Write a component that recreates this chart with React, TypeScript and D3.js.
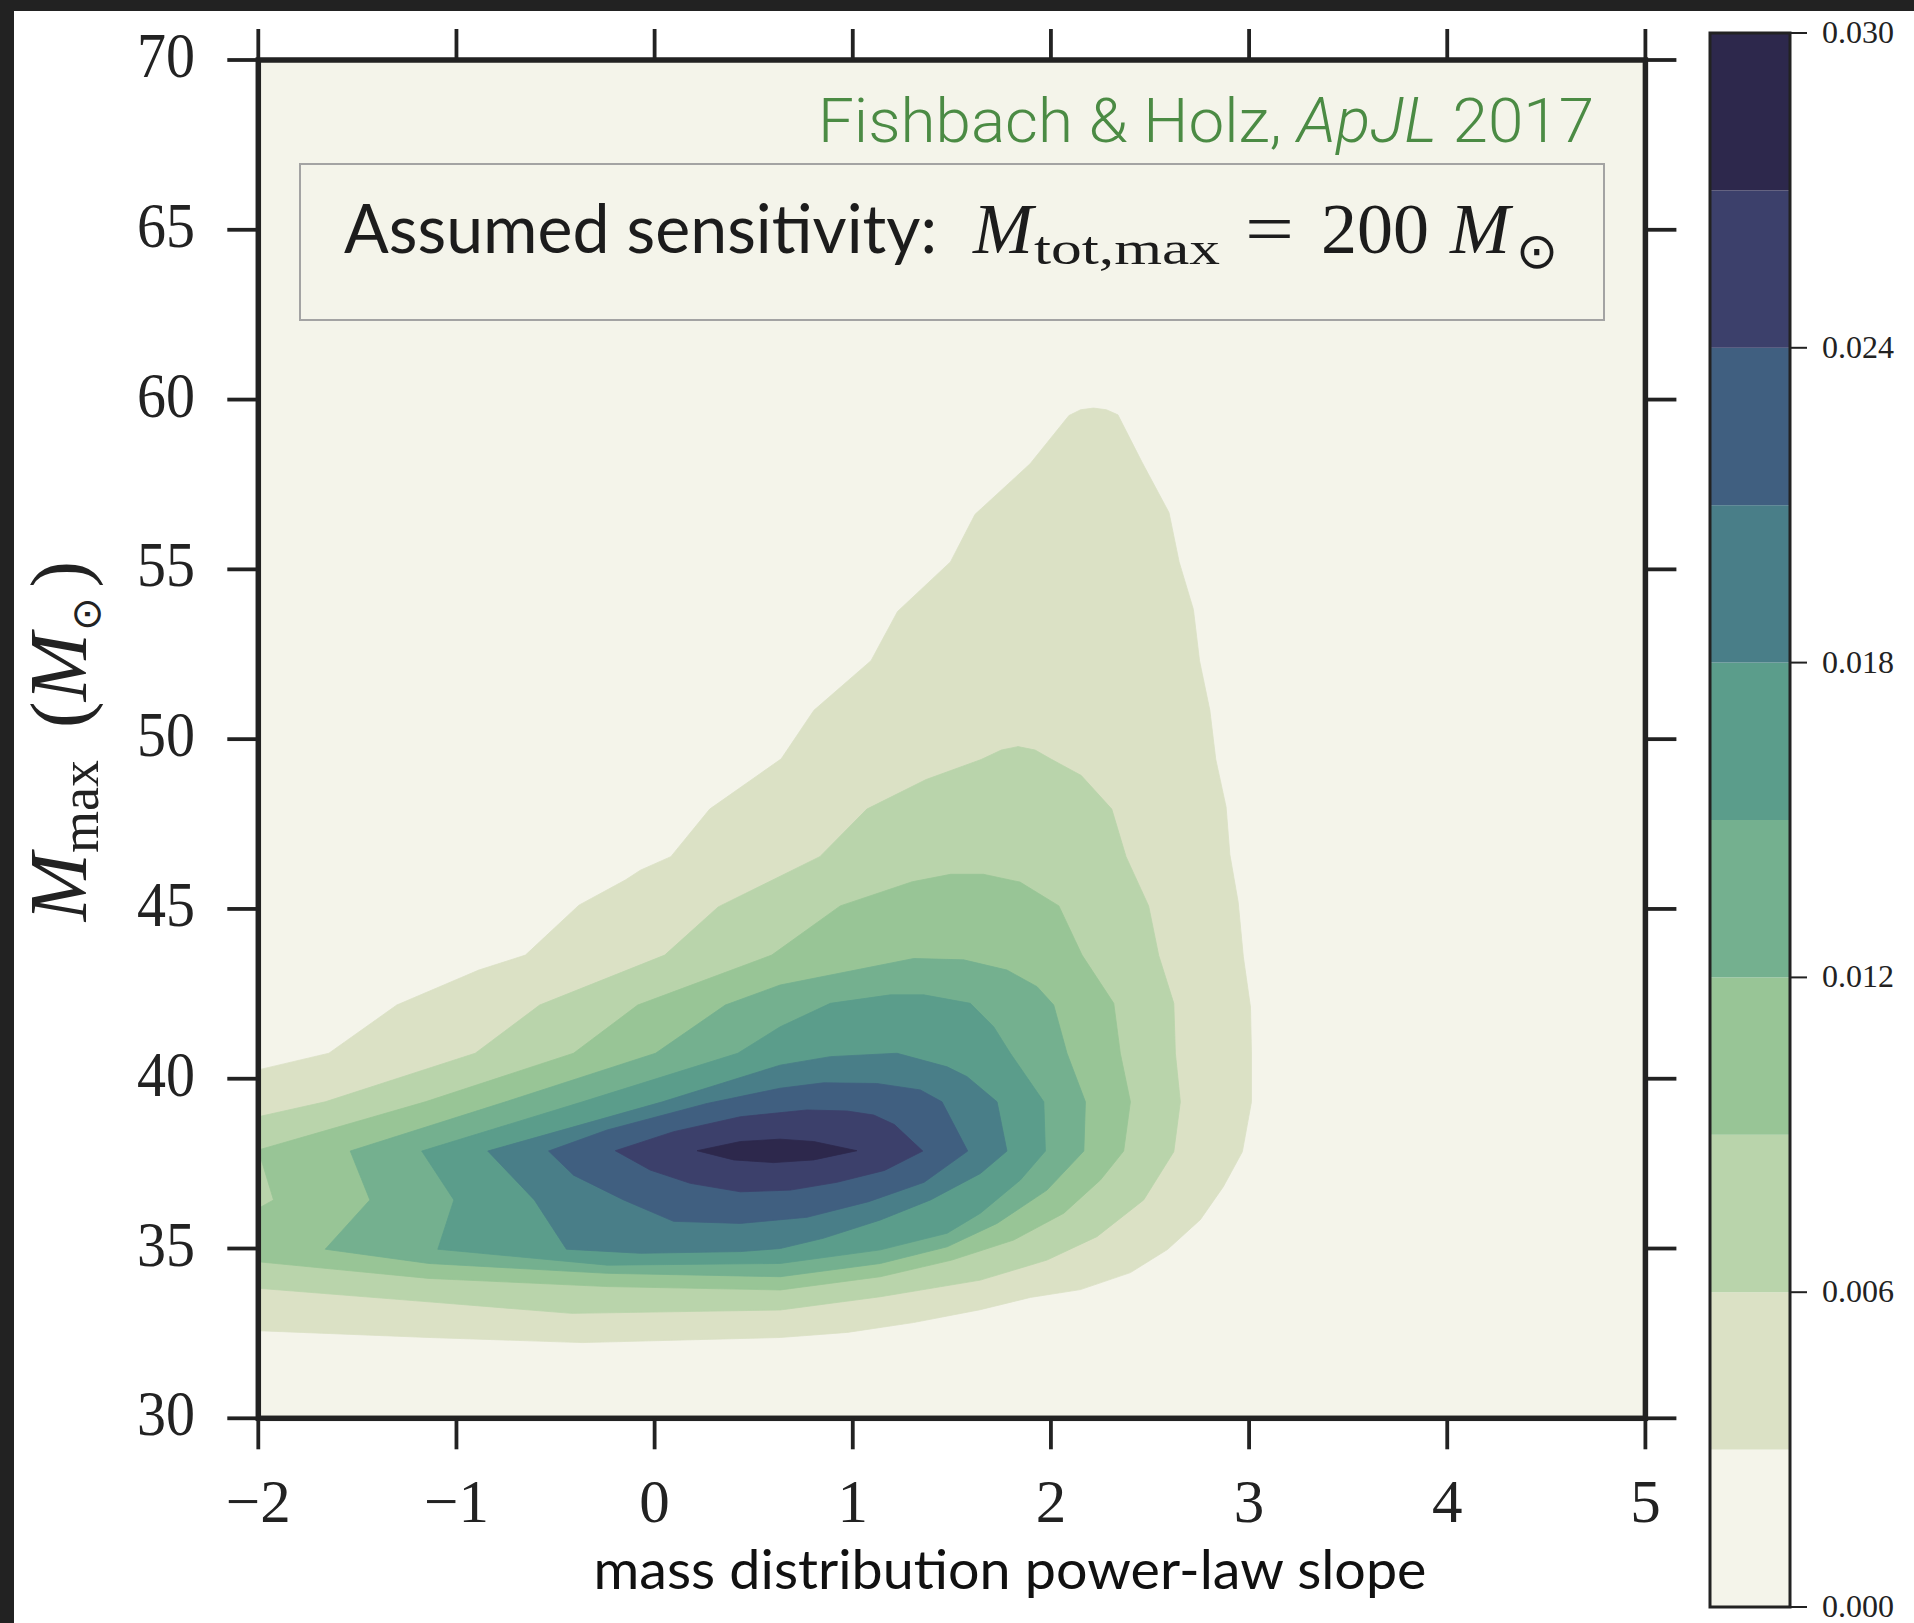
import React, { useEffect } from 'react';
import * as d3 from 'd3';

const W = 1914;
const H = 1623;

const xTicks = [-2, -1, 0, 1, 2, 3, 4, 5];
const yTicks = [30, 35, 40, 45, 50, 55, 60, 65, 70];
const colorbarTicks = [0, 0.006, 0.012, 0.018, 0.024, 0.03];
const levelValues = [0, 0.003, 0.006, 0.009, 0.012, 0.015, 0.018, 0.021, 0.024, 0.027, 0.03];
const bandColors = ['#f4f4ea', '#dbe1c5', '#b9d4ab', '#98c596', '#74b08f', '#5b9d8b', '#497e88', '#405f80', '#3c406b', '#2d284c'];

// contour boundaries (slope, Mmax), one per level
const contour003 = [[-2, 40.26], [-1.644, 40.75], [-1.301, 42.17], [-0.887, 43.2], [-0.652, 43.64], [-0.382, 45.11], [-0.148, 45.85], [-0.072, 46.14], [0.082, 46.54], [0.278, 47.94], [0.639, 49.42], [0.804, 50.85], [1.092, 52.31], [1.226, 53.76], [1.493, 55.22], [1.617, 56.62], [1.895, 58.11], [2.091, 59.53], [2.15, 59.7], [2.215, 59.75], [2.28, 59.7], [2.338, 59.55], [2.462, 58.13], [2.596, 56.67], [2.647, 55.22], [2.719, 53.82], [2.75, 52.31], [2.802, 50.85], [2.832, 49.4], [2.884, 48.0], [2.903, 46.6], [2.945, 45.2], [2.971, 43.59], [3.007, 42.11], [3.012, 40.76], [3.012, 39.32], [2.966, 37.85], [2.87, 36.82], [2.754, 35.85], [2.588, 34.97], [2.401, 34.29], [2.149, 33.79], [1.896, 33.56], [1.644, 33.2], [1.306, 32.82], [0.973, 32.53], [0.634, 32.38], [-0.365, 32.23], [-1.139, 32.38], [-2, 32.58]];
const contour006 = [[-2, 38.88], [-1.662, 39.32], [-0.905, 40.75], [-0.58, 42.17], [0.051, 43.64], [0.321, 45.06], [0.834, 46.54], [1.071, 47.94], [1.37, 48.81], [1.648, 49.4], [1.75, 49.68], [1.834, 49.78], [1.92, 49.68], [1.998, 49.42], [2.153, 48.93], [2.307, 47.94], [2.379, 46.54], [2.493, 45.09], [2.544, 43.63], [2.62, 42.22], [2.628, 40.75], [2.653, 39.32], [2.62, 37.85], [2.468, 36.43], [2.232, 35.35], [1.98, 34.66], [1.644, 34.07], [1.139, 33.58], [0.634, 33.19], [-0.418, 33.09], [-1.139, 33.43], [-2, 33.83]];
const contour009 = [[-2, 37.9], [-1.157, 39.32], [-0.409, 40.75], [-0.085, 42.17], [0.591, 43.64], [0.937, 45.09], [1.3, 45.8], [1.494, 46.02], [1.659, 46.02], [1.844, 45.79], [2.04, 45.09], [2.157, 43.64], [2.317, 42.22], [2.35, 40.75], [2.401, 39.32], [2.367, 37.87], [2.25, 37.02], [2.065, 36.04], [1.812, 35.25], [1.5, 34.66], [1.139, 34.17], [0.634, 33.78], [-0.238, 33.88], [-1.139, 34.12], [-2, 34.61], [-2, 36.18], [-1.923, 36.43]];
const contour012 = [[-1.536, 37.87], [-0.752, 39.32], [0.005, 40.75], [0.357, 42.17], [0.634, 42.76], [1.308, 43.54], [1.56, 43.5], [1.778, 43.2], [1.93, 42.71], [2.014, 42.17], [2.081, 40.75], [2.174, 39.32], [2.166, 37.87], [1.98, 36.72], [1.728, 35.74], [1.476, 35.05], [1.139, 34.56], [0.634, 34.17], [-0.238, 34.27], [-1.139, 34.56], [-1.662, 34.98], [-1.437, 36.43]];
const contour015 = [[-1.175, 37.87], [-0.364, 39.32], [0.42, 40.75], [0.634, 41.53], [0.887, 42.22], [1.19, 42.47], [1.358, 42.47], [1.593, 42.22], [1.711, 41.53], [1.795, 40.75], [1.964, 39.32], [1.972, 37.87], [1.846, 37.02], [1.644, 36.04], [1.476, 35.45], [1.139, 34.96], [0.634, 34.56], [-0.238, 34.51], [-1.094, 34.98], [-1.013, 36.43]];
const contour018 = [[-0.842, 37.87], [0.04, 39.32], [0.634, 40.4], [0.887, 40.65], [1.223, 40.75], [1.476, 40.35], [1.577, 40.06], [1.728, 39.32], [1.778, 37.87], [1.644, 37.21], [1.392, 36.43], [1.139, 35.84], [0.85, 35.3], [0.634, 35.0], [0.433, 34.91], [-0.072, 34.86], [-0.445, 34.98], [-0.607, 36.43]];
const contour021 = [[-0.535, 37.87], [-0.24, 38.49], [0.264, 39.27], [0.634, 39.72], [0.853, 39.88], [1.12, 39.86], [1.341, 39.67], [1.45, 39.32], [1.58, 37.87], [1.36, 36.95], [1.08, 36.38], [0.769, 35.92], [0.433, 35.74], [0.096, 35.8], [-0.156, 36.43], [-0.409, 37.16]];
const contour024 = [[-0.198, 37.88], [0.096, 38.44], [0.433, 38.88], [0.769, 39.08], [0.971, 39.05], [1.106, 38.93], [1.21, 38.65], [1.353, 37.87], [1.16, 37.3], [0.92, 36.95], [0.685, 36.72], [0.433, 36.67], [0.18, 36.92], [-0.022, 37.31]];
const contour027 = [[0.214, 37.88], [0.433, 38.15], [0.634, 38.22], [0.803, 38.15], [1.021, 37.88], [0.803, 37.61], [0.601, 37.53], [0.399, 37.61]];

const xLabel = 'mass distribution power-law slope';
const creditText = 'Fishbach & Holz, ';
const sensitivityText = 'Assumed sensitivity:';

const SERIF = "'Liberation Serif', 'DejaVu Serif', serif";
const SANS = "Lato, 'Open Sans', 'Noto Sans', sans-serif";
const INK = '#222222';

export default function App() {
  useEffect(() => {
    document.body.style.margin = '0';
    document.body.style.overflow = 'hidden';
  }, []);

  const x = d3.scaleLinear().domain([-2, 5]).range([258.3, 1645.4]);
  const y = d3.scaleLinear().domain([30, 70]).range([1418.3, 60]);
  const cb = d3.scaleLinear().domain([0, 0.03]).range([1607, 33]);
  const line = d3.line<number[]>().x(d => x(d[0])).y(d => y(d[1])).curve(d3.curveLinearClosed);

  const contours = [contour003, contour006, contour009, contour012, contour015, contour018, contour021, contour024, contour027];
  const [x0, x1] = x.range();
  const [y1, y0] = y.range();
  const fmtX = (v: number) => (v < 0 ? '\u2212' + Math.abs(v) : String(v));
  const fmtCb = d3.format('.3f');
  const tickLen = 31;

  return (
    <svg width={W} height={H} style={{ position: 'absolute', left: 0, top: 0, display: 'block' }}>
      <rect x={0} y={0} width={W} height={H} fill="#ffffff" />
      <rect x={0} y={0} width={W} height={11} fill="#222222" />
      <rect x={0} y={0} width={14} height={H} fill="#222222" />
      <defs>
        <clipPath id="plotclip">
          <rect x={x0} y={y0} width={x1 - x0} height={y1 - y0} />
        </clipPath>
      </defs>
      <rect x={x0} y={y0} width={x1 - x0} height={y1 - y0} fill={bandColors[0]} />
      <g clipPath="url(#plotclip)">
        {contours.map((c, i) => (
          <path key={i} d={line(c) || ''} fill={bandColors[i + 1]} stroke={bandColors[i + 1]} strokeWidth={0.8} />
        ))}
      </g>

      {/* credit line */}
      <text x={1594} y={142} textAnchor="end" fontFamily="Roboto, 'Liberation Sans', sans-serif" fontWeight={300}
        fontSize={62} fill="#4b8b44" textLength={776} lengthAdjust="spacingAndGlyphs">
        {creditText}<tspan fontStyle="italic">ApJL</tspan> 2017
      </text>

      {/* sensitivity box */}
      <rect x={300} y={164} width={1304} height={156} fill={bandColors[0]} stroke="#a3a3a3" strokeWidth={2} />
      <text x={344} y={253} fontFamily={SANS} fontSize={68} fill="#1c1c1c" textLength={593} lengthAdjust="spacingAndGlyphs">
        {sensitivityText}
      </text>
      <text x={973} y={253} fontFamily={SERIF} fontStyle="italic" fontSize={72} fill="#1c1c1c">M</text>
      <text x={1034} y={264} fontFamily={SERIF} fontSize={46} fill="#1c1c1c" textLength={186} lengthAdjust="spacingAndGlyphs">tot,max</text>
      <text x={1245} y={253} fontFamily={SERIF} fontSize={72} fill="#1c1c1c" textLength={49} lengthAdjust="spacingAndGlyphs">=</text>
      <text x={1321} y={253} fontFamily={SERIF} fontSize={72} fill="#1c1c1c">200</text>
      <text x={1450} y={253} fontFamily={SERIF} fontStyle="italic" fontSize={72} fill="#1c1c1c">M</text>
      <text x={1516} y={268} fontFamily="'DejaVu Sans', sans-serif" fontSize={50} fill="#1c1c1c">{'\u2299'}</text>

      {/* frame */}
      <rect x={x0} y={y0} width={x1 - x0} height={y1 - y0} fill="none" stroke={INK} strokeWidth={5.5} />

      {/* x ticks bottom/top */}
      {xTicks.map(t => (
        <g key={'xt' + t}>
          <line x1={x(t)} x2={x(t)} y1={y1} y2={y1 + tickLen} stroke={INK} strokeWidth={3.8} />
          <line x1={x(t)} x2={x(t)} y1={y0} y2={y0 - tickLen} stroke={INK} strokeWidth={3.8} />
          <text x={x(t)} y={1522} textAnchor="middle" fontFamily={SERIF} fontSize={61} fill={INK}>{fmtX(t)}</text>
        </g>
      ))}
      {/* y ticks left/right */}
      {yTicks.map(t => (
        <g key={'yt' + t}>
          <line x1={x0 - tickLen} x2={x0} y1={y(t)} y2={y(t)} stroke={INK} strokeWidth={3.8} />
          <line x1={x1} x2={x1 + tickLen} y1={y(t)} y2={y(t)} stroke={INK} strokeWidth={3.8} />
          <text x={195} y={y(t) + 17} textAnchor="end" fontFamily={SERIF} fontSize={64} fill={INK}
            textLength={58} lengthAdjust="spacingAndGlyphs">{t}</text>
        </g>
      ))}

      {/* axis labels */}
      <text x={1010} y={1589} textAnchor="middle" fontFamily={SANS} fontSize={54} fill="#111111" textLength={833} lengthAdjust="spacingAndGlyphs">
        {xLabel}
      </text>
      <text transform="translate(86,741) rotate(-90)" textAnchor="middle" fontFamily={SERIF} fill={INK}>
        <tspan fontStyle="italic" fontSize={82}>M</tspan>
        <tspan fontSize={54} dy={12}>max</tspan>
        <tspan fontSize={80} dy={-12} dx={32}>(</tspan>
        <tspan fontStyle="italic" fontSize={82}>M</tspan>
        <tspan fontSize={40} dy={14} dx={2} fontFamily="'DejaVu Sans', sans-serif">{'\u2299'}</tspan>
        <tspan fontSize={80} dy={-14} dx={10}>)</tspan>
      </text>

      {/* colorbar */}
      {bandColors.map((c, i) => (
        <rect key={'cb' + i} x={1710} y={cb(levelValues[i + 1])} width={80}
          height={cb(levelValues[i]) - cb(levelValues[i + 1])} fill={c} />
      ))}
      <rect x={1710} y={cb(0.03)} width={80} height={cb(0) - cb(0.03)} fill="none" stroke={INK} strokeWidth={3} />
      {colorbarTicks.map(t => (
        <g key={'cbt' + t}>
          <line x1={1790} x2={1807} y1={cb(t)} y2={cb(t)} stroke={INK} strokeWidth={2} />
          <text x={1822} y={cb(t) + 10} fontFamily={SERIF} fontSize={32} fill={INK}>{fmtCb(t)}</text>
        </g>
      ))}
    </svg>
  );
}
